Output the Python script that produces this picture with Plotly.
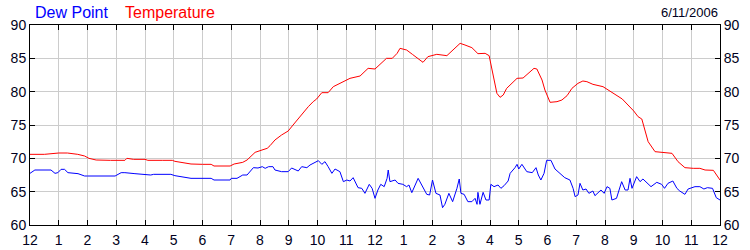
import plotly.graph_objects as go

# --- data (hours since midnight, deg F) ---
temp_hours = [0, 0.5, 1.0, 1.3, 1.66, 1.9, 2.05, 2.3, 2.8, 3.3, 3.37, 3.6, 4.0, 4.1, 4.6, 4.95,
              5.04, 5.3, 5.6, 6.0, 6.3, 6.4, 6.7, 6.96, 7.1, 7.2, 7.4, 7.55, 7.83, 8.07, 8.25,
              8.35, 8.52, 8.75, 8.98, 9.15, 9.38, 9.68, 9.85, 9.97, 10.15, 10.37, 10.55, 10.85,
              11.13, 11.48, 11.76, 12.0, 12.24, 12.4, 12.6, 12.77, 12.87, 13.1, 13.3, 13.67,
              13.84, 14.15, 14.5, 14.7, 14.96, 15.13, 15.37, 15.58, 15.83, 15.97, 16.1, 16.24,
              16.35, 16.46, 16.58, 16.77, 16.94, 17.15, 17.32, 17.53, 17.63, 17.81, 17.91,
              18.09, 18.33, 18.5, 18.68, 18.85, 19.06, 19.23, 19.37, 19.58, 19.93, 20.24, 20.6,
              21.0, 21.15, 21.28, 21.39, 21.5, 21.74, 22.02, 22.33, 22.54, 22.78, 23.07, 23.3,
              23.48, 23.77, 24.0]
temperature = [70.6, 70.6, 70.8, 70.8, 70.6, 70.35, 70.0, 69.75, 69.7, 69.7, 70.0, 69.85, 69.85,
               69.7, 69.7, 69.7, 69.55, 69.4, 69.15, 69.1, 69.1, 68.85, 68.85, 68.85, 69.15,
               69.2, 69.4, 69.75, 70.9, 71.25, 71.5, 71.9, 72.75, 73.5, 74.1, 75.0, 76.25, 77.75,
               78.5, 78.9, 79.85, 79.85, 80.75, 81.4, 82.0, 82.35, 83.5, 83.4, 84.35, 85.0, 85.0,
               85.75, 86.5, 86.25, 85.6, 84.4, 85.25, 85.6, 85.4, 86.2, 87.25, 87.0, 86.6, 85.7,
               85.75, 85.4, 82.5, 79.75, 79.15, 79.5, 80.5, 81.25, 82.0, 82.05, 82.75, 83.5,
               83.4, 81.75, 80.25, 78.4, 78.5, 78.75, 79.4, 80.5, 81.25, 81.6, 81.5, 81.1, 80.75,
               79.85, 78.9, 77.1, 76.25, 75.9, 74.0, 72.5, 71.0, 70.9, 70.75, 69.5, 68.6, 68.5,
               68.5, 68.25, 68.2, 66.75]

dew_hours = [0, 0.17, 0.73, 0.87, 0.97, 1.08, 1.2, 1.32, 1.67, 1.9, 2.0, 2.26, 2.96, 3.17, 3.3,
             3.65, 4.0, 4.2, 4.3, 4.9, 5.04, 5.3, 5.6, 6.3, 6.4, 6.96, 7.0, 7.2, 7.4, 7.55, 7.77,
             7.93, 8.08, 8.18, 8.3, 8.45, 8.52, 8.75, 8.98, 9.1, 9.33, 9.45, 9.63, 9.74, 9.85,
             10.03, 10.15, 10.26, 10.37, 10.5, 10.61, 10.78, 10.9, 11.02, 11.13, 11.24, 11.41,
             11.54, 11.65, 11.8, 11.9, 12.0, 12.1, 12.2, 12.32, 12.42, 12.46, 12.52, 12.7, 12.8,
             12.97, 13.1, 13.18, 13.28, 13.5, 13.67, 13.8, 13.9, 14.0, 14.12, 14.26, 14.35,
             14.43, 14.57, 14.7, 14.85, 14.93, 14.99, 15.1, 15.23, 15.37, 15.48, 15.55, 15.58,
             15.65, 15.76, 15.86, 15.97, 16.03, 16.14, 16.28, 16.38, 16.49, 16.63, 16.7, 16.87,
             16.94, 17.0, 17.11, 17.28, 17.47, 17.6, 17.68, 17.77, 17.88, 17.97, 18.12, 18.26,
             18.43, 18.6, 18.78, 18.89, 18.96, 19.06, 19.13, 19.23, 19.34, 19.44, 19.58, 19.65,
             19.86, 19.97, 20.07, 20.17, 20.24, 20.4, 20.58, 20.7, 20.8, 20.87, 20.94, 21.1,
             21.22, 21.32, 21.6, 21.8, 21.97, 22.07, 22.19, 22.36, 22.5, 22.6, 22.78, 22.89,
             23.13, 23.3, 23.44, 23.56, 23.74, 23.87, 24.0]
dew_point = [67.75, 68.25, 68.25, 67.75, 67.85, 68.35, 68.35, 67.85, 67.7, 67.35, 67.35, 67.35,
             67.35, 67.85, 67.85, 67.7, 67.6, 67.5, 67.6, 67.6, 67.4, 67.2, 67.0, 67.0, 66.75,
             66.75, 67.0, 67.0, 67.5, 67.5, 68.6, 68.55, 68.75, 68.5, 68.75, 68.75, 68.25, 68.0,
             68.0, 68.55, 68.1, 68.75, 68.6, 69.0, 69.25, 69.65, 69.1, 69.5, 68.75, 67.75, 68.4,
             68.0, 66.5, 66.75, 66.6, 67.1, 65.6, 65.5, 64.75, 66.1, 65.5, 64.0, 65.25, 66.1,
             65.75, 67.0, 68.25, 66.5, 66.75, 66.25, 66.1, 65.75, 66.0, 64.85, 67.0, 65.5, 64.6,
             64.5, 66.75, 64.75, 64.5, 62.6, 63.1, 64.75, 63.5, 65.5, 66.9, 64.75, 64.6, 63.5,
             63.5, 64.0, 63.1, 64.9, 63.1, 64.9, 63.75, 63.75, 66.1, 65.75, 66.0, 65.5, 65.9,
             66.6, 67.75, 68.6, 69.1, 68.4, 69.1, 68.0, 67.85, 68.6, 67.5, 66.75, 67.75, 69.7,
             69.7, 68.4, 67.75, 67.1, 66.75, 65.5, 64.25, 64.5, 66.25, 65.25, 65.4, 64.75, 65.1,
             64.4, 65.25, 64.75, 65.75, 65.5, 63.75, 64.0, 66.5, 65.25, 65.25, 67.0, 65.5,
             67.25, 66.5, 66.9, 65.75, 66.4, 66.1, 65.5, 66.25, 66.6, 65.5, 65.1, 64.6, 65.4,
             65.75, 65.75, 65.4, 65.6, 65.5, 64.1, 63.75]

x_ticks = list(range(0, 25))
x_labels = ["12", "1", "2", "3", "4", "5", "6", "7", "8", "9", "10", "11",
            "12", "1", "2", "3", "4", "5", "6", "7", "8", "9", "10", "11", "12"]
y_ticks = [60, 65, 70, 75, 80, 85, 90]

FONT = "Liberation Sans, Arial, sans-serif"

fig = go.Figure()
fig.add_trace(go.Scatter(x=dew_hours, y=dew_point, mode="lines",
                         line=dict(color="#0000ff", width=1), yaxis="y"))
fig.add_trace(go.Scatter(x=temp_hours, y=temperature, mode="lines",
                         line=dict(color="#ff0000", width=1), yaxis="y2"))

axis_common = dict(
    showline=True, linecolor="black", linewidth=1,
    ticks="inside", ticklen=5, tickcolor="black", tickwidth=1,
    tickfont=dict(family=FONT, size=14, color="#000020"),
    zeroline=False, automargin=False,
)

fig.update_layout(
    width=750, height=250,
    margin=dict(l=30, r=30, t=25, b=25),
    paper_bgcolor="white", plot_bgcolor="white",
    showlegend=False,
    xaxis=dict(range=[0, 24], tickvals=x_ticks, ticktext=x_labels,
               showgrid=True, gridcolor="#cccccc", gridwidth=1,
               mirror="ticks", ticklabelstandoff=2, **axis_common),
    yaxis=dict(range=[60, 90], tickvals=y_ticks, side="left",
               showgrid=True, gridcolor="#cccccc", gridwidth=1,
               mirror="ticks", **axis_common),
    yaxis2=dict(range=[60, 90], tickvals=y_ticks, side="right", overlaying="y",
                showgrid=False, **axis_common),
    annotations=[
        dict(text="Dew Point", xref="paper", yref="paper", x=3 / 690, y=1.065,
             xanchor="left", yanchor="middle", showarrow=False,
             font=dict(family=FONT, size=16, color="#0000ff")),
        dict(text="Temperature", xref="paper", yref="paper", x=93 / 690, y=1.065,
             xanchor="left", yanchor="middle", showarrow=False,
             font=dict(family=FONT, size=16, color="#ff0000")),
        dict(text="6/11/2006", xref="paper", yref="paper", x=1.0, y=1.065,
             xanchor="right", yanchor="middle", showarrow=False,
             font=dict(family=FONT, size=13, color="#000020")),
    ],
)

fig.write_html("out.html")
